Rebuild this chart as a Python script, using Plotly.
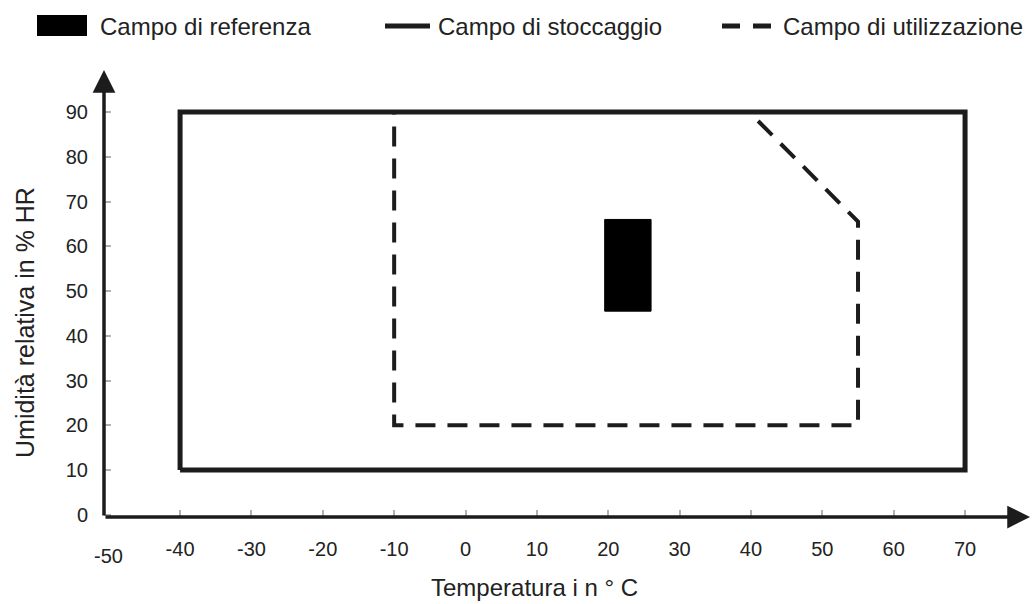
import plotly.graph_objects as go

# ---- data ----
x_ticks = [-40, -30, -20, -10, 0, 10, 20, 30, 40, 50, 60, 70]
y_ticks = [0, 10, 20, 30, 40, 50, 60, 70, 80, 90]

ref_x = [19.5, 26, 26, 19.5, 19.5]
ref_y = [45.5, 45.5, 66, 66, 45.5]

storage_x = [-40, 70, 70, -40, -40]
storage_y = [10, 10, 90, 90, 10]

usage_x = [41, 55, 55, -10, -10]
usage_y = [88, 65.5, 20, 20, 90]

names = ["Campo di referenza", "Campo di stoccaggio", "Campo di utilizzazione"]

INK = "#1c1c1c"
TXT = "#222222"
FONT = "Liberation Sans, Arial, sans-serif"
W, H = 1035, 604
ML, MR, MT, MB = 104, 5, 70, 87
PW, PH = W - ML - MR, H - MT - MB


def px(xp):  # page pixel -> paper x
    return (xp - ML) / PW


def py(yp):  # page pixel -> paper y
    return (H - MB - yp) / PH


fig = go.Figure()
fig.add_trace(go.Scatter(x=ref_x, y=ref_y, mode="lines", fill="toself",
                         fillcolor="#000000", line=dict(color="#000000", width=1),
                         name=names[0]))
fig.add_trace(go.Scatter(x=storage_x, y=storage_y, mode="lines",
                         line=dict(color=INK, width=5), name=names[1]))
fig.add_trace(go.Scatter(x=usage_x, y=usage_y, mode="lines",
                         line=dict(color=INK, width=4, dash="20px,12px"), name=names[2]))

fig.update_layout(
    width=W, height=H,
    margin=dict(l=ML, r=MR, t=MT, b=MB),
    paper_bgcolor="white", plot_bgcolor="white",
    font=dict(family=FONT, color=TXT),
    showlegend=False,
    xaxis=dict(range=[-50.66, 79.1], tickvals=x_ticks,
               ticktext=[str(v) for v in x_ticks],
               showgrid=False, zeroline=False, showline=False,
               ticks="inside", ticklen=7, tickcolor="#b0b0b0", tickwidth=1.5,
               tickfont=dict(size=20, color=TXT), ticklabelstandoff=18),
    yaxis=dict(range=[-0.5, 99.4], tickvals=y_ticks,
               ticktext=[str(v) for v in y_ticks],
               showgrid=False, zeroline=False, showline=False,
               ticks="inside", ticklen=7, tickcolor="#b0b0b0", tickwidth=1.5,
               tickfont=dict(size=20, color=TXT), ticklabelstandoff=15),
)

# axis arrows
fig.add_annotation(xref="x domain", yref="y domain", axref="x domain", ayref="y domain",
                   x=1, y=0, ax=0, ay=0, showarrow=True, arrowhead=2, arrowsize=1.3,
                   arrowwidth=3.5, arrowcolor=INK, text="")
fig.add_annotation(xref="x domain", yref="y domain", axref="x domain", ayref="y domain",
                   x=0, y=1, ax=0, ay=0, showarrow=True, arrowhead=2, arrowsize=1.3,
                   arrowwidth=3.5, arrowcolor=INK, text="")

# -50 label sits slightly lower at the origin
fig.add_annotation(xref="x", yref="paper", x=-50, y=0, yshift=-39, text="-50",
                   xanchor="center", yanchor="middle",
                   showarrow=False, font=dict(size=20, color=TXT))

# axis titles
fig.add_annotation(xref="paper", yref="paper", x=px(534), y=0, yshift=-70,
                   text="Temperatura i n ° C", showarrow=False,
                   xanchor="center", yanchor="middle",
                   font=dict(size=24, color=TXT))
fig.add_annotation(xref="paper", yref="paper", x=0, xshift=-79, y=py(323),
                   text="Umidità relativa in % HR", showarrow=False, textangle=-90,
                   xanchor="center", yanchor="middle",
                   font=dict(size=25, color=TXT))

# legend (drawn as keys + labels above the plot)
LY = 26
fig.add_shape(type="rect", xref="paper", yref="paper",
              x0=px(37), x1=px(87), y0=py(15), y1=py(36),
              fillcolor="#000000", line=dict(width=0))
fig.add_shape(type="line", xref="paper", yref="paper",
              x0=px(385), x1=px(430), y0=py(LY), y1=py(LY),
              line=dict(color=INK, width=5))
fig.add_shape(type="line", xref="paper", yref="paper",
              x0=px(722), x1=px(772), y0=py(LY), y1=py(LY),
              line=dict(color=INK, width=5, dash="18px,13px"))
for xl, name in zip([98, 436, 781], names):
    fig.add_annotation(xref="paper", yref="paper", x=px(xl), y=py(LY),
                       xanchor="left", yanchor="middle", text=name,
                       showarrow=False, font=dict(size=24, color=TXT))

fig.write_html("out.html")
